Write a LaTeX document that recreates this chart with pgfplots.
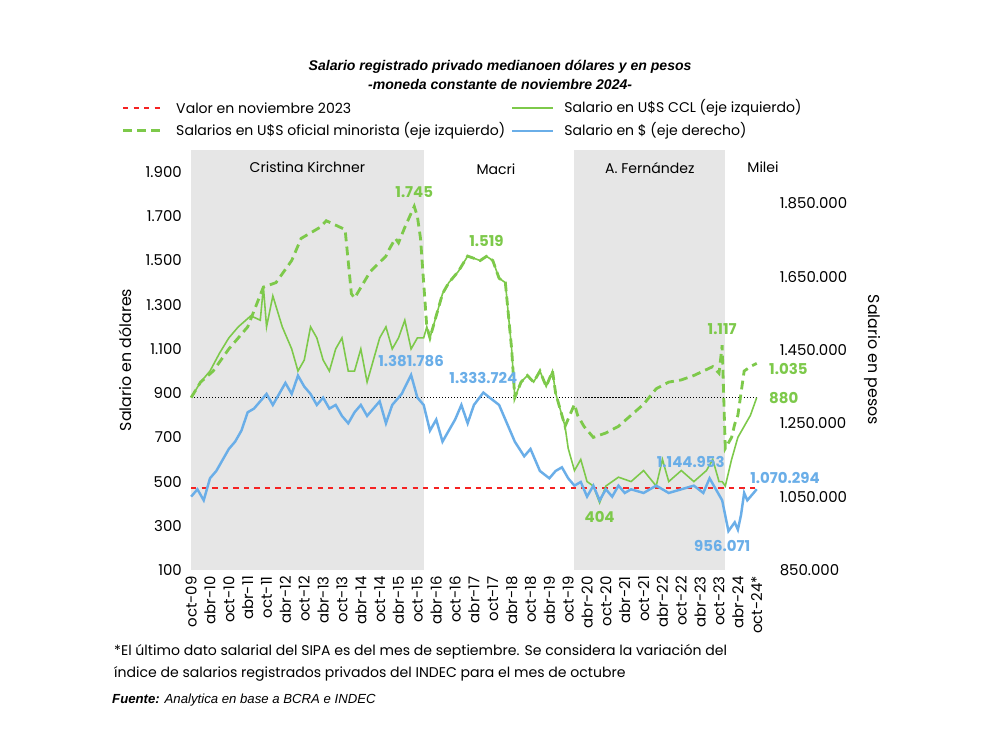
\documentclass[border=0pt]{standalone}
\usepackage{pgfplots}
\pgfplotsset{compat=1.18}
\usepackage{fontspec}
\setmainfont{Poppins}
\newfontfamily\arialf{Liberation Sans}
\definecolor{gr}{HTML}{7DC94A}
\definecolor{bl}{HTML}{6AAEE8}
\definecolor{rd}{HTML}{F52222}
\definecolor{bggray}{HTML}{E6E6E6}
\newcommand{\px}[2]{({#1*0.02},{(744-#2)*0.02})}
\tikzset{gdash/.style={dash pattern=on 5pt off 3pt}}
\begin{document}
\begin{tikzpicture}[font=\fontsize{8}{9.5}\selectfont]
\path[fill=white] (0,0) rectangle (19.84,14.88);
\begin{axis}[at={(3.76cm,3.48cm)}, anchor=south west, scale only axis,
 width=11.5cm, height=8.4cm, xmin=-1, xmax=182, ymin=100, ymax=2000,
 axis line style={draw=none}, tick style={draw=none},
 ytick={100,300,...,1900}, xtick={0,6,...,180},
 xticklabels={oct-09,abr-10,oct-10,abr-11,oct-11,abr-12,oct-12,abr-13,oct-13,abr-14,oct-14,abr-15,oct-15,abr-16,oct-16,abr-17,oct-17,abr-18,oct-18,abr-19,oct-19,abr-20,oct-20,abr-21,oct-21,abr-22,oct-22,abr-23,oct-23,abr-24,oct-24*},
 xticklabel style={rotate=90, anchor=east, font=\fontsize{8.5}{9}\selectfont},
 yticklabel style={font=\fontsize{8.5}{9}\selectfont},
 /pgf/number format/.cd, fixed, 1000 sep={.}, assume math mode=true,
 /pgfplots/.cd, clip=false]
\fill[bggray] (axis cs:0,100) rectangle (axis cs:74,2000);
\fill[bggray] (axis cs:122,100) rectangle (axis cs:170,2000);
\addplot[rd, dashed, line width=0.9pt, forget plot] coordinates {(0,470) (180,470)};
\addplot[black, densely dotted, line width=0.7pt, forget plot] coordinates {(0,880) (180,880)};
\addplot[gr, line width=0.9pt] coordinates {
(0,880)(3,950)(6,1000)(9,1080)(12,1150)(15,1200)(19,1250)(22,1230)(23,1380)(24,1200)(26,1340)(29,1200)(32,1100)(34,1000)(36,1050)(38,1200)(40,1150)(42,1050)(44,1000)(46,1100)(48,1150)(50,1000)(52,1000)(54,1100)(56,950)(57,1000)(60,1150)(62,1200)(64,1100)(66,1150)(68,1230)(70,1100)(72,1150)(74,1150)
(75,1200)(76,1150)(78,1250)(80,1350)(82,1400)(85,1450)(88,1520)(92,1500)(94,1519)(96,1500)(98,1420)(100,1400)(102,1100)(103,880)(105,950)(107,980)(109,950)(111,1000)(113,930)(115,1000)(116,900)(118,800)(119,750)
(120,650)(122,550)(124,600)(126,500)(128,480)(130,404)(132,480)(136,520)(140,500)(144,550)(148,480)(150,600)(152,500)(156,550)(160,500)(164,550)(166,600)(168,500)(169,500)(170,480)(172,600)(174,700)(176,750)(178,800)(180,880)};
\addplot[gr, gdash, line width=1.6pt] coordinates {
(0,880)(3,950)(7,1000)(12,1100)(18,1200)(23,1380)(27,1400)(32,1500)(35,1600)(41,1650)(43,1680)(49,1640)(51,1350)(52,1330)(57,1450)(62,1520)(63,1550)(65,1600)(66,1580)(68,1650)(71,1745)(72,1700)(73,1600)(75,1200)(76,1150)(78,1250)(80,1350)(82,1400)(85,1450)(88,1520)(92,1500)(94,1519)(96,1500)(98,1420)(100,1400)(102,1100)(103,880)(105,950)(107,980)(109,950)(111,1000)(113,930)(115,1000)(116,900)(118,800)(119,750)(122,850)(123,800)(125,750)(128,700)(132,720)(136,750)(140,800)(144,850)(148,920)(152,950)(156,960)(160,980)(163,1000)(166,1020)(168,990)(169,1117)(170,650)(172,700)(173,760)(174,800)(176,1000)(178,1020)(180,1035)};
\node[gr, font=\fontsize{8.5}{9}\bfseries] at (axis cs:71,1810) {1.745};
\node[gr, font=\fontsize{8.5}{9}\bfseries] at (axis cs:94,1590) {1.519};
\node[gr, font=\fontsize{8.5}{9}\bfseries] at (axis cs:169,1190) {1.117};
\node[gr, font=\fontsize{8.5}{9}\bfseries, anchor=west] at (axis cs:182,1010) {1.035};
\node[gr, font=\fontsize{8.5}{9}\bfseries, anchor=west] at (axis cs:182,880) {880};
\node[gr, font=\fontsize{8.5}{9}\bfseries] at (axis cs:130,340) {404};
\node at (axis cs:37,1920) {Cristina Kirchner};
\node at (axis cs:97,1915) {Macri};
\node at (axis cs:146,1920) {A. Fernández};
\node at (axis cs:182,1920) {Milei};
\end{axis}
\begin{axis}[at={(3.76cm,3.48cm)}, anchor=south west, scale only axis,
 width=11.5cm, height=8.4cm, xmin=-1, xmax=182, ymin=850000, ymax=1995000,
 axis line style={draw=none}, tick style={draw=none}, hide x axis,
 axis y line*=right, ytick={850000,1050000,1250000,1450000,1650000,1850000},
 yticklabel style={font=\fontsize{8.5}{9}\selectfont, xshift=6pt},
 scaled y ticks=false,
 /pgf/number format/.cd, fixed, precision=0, 1000 sep={.}, assume math mode=true,
 /pgfplots/.cd, clip=false]
\addplot[bl, line width=1.4pt] coordinates {
(0,1050000)(2,1070000)(4,1040000)(6,1100000)(8,1120000)(10,1150000)(12,1180000)(14,1200000)(16,1230000)(18,1280000)(20,1290000)(24,1330000)(26,1300000)(30,1360000)(32,1330000)(34,1380000)(36,1350000)(38,1330000)(40,1300000)(42,1320000)(44,1290000)(46,1300000)(48,1270000)(50,1250000)(52,1280000)(54,1300000)(56,1270000)(58,1290000)(60,1310000)(62,1250000)(64,1300000)(67,1330000)(70,1381786)(72,1320000)(74,1300000)(76,1230000)(78,1260000)(80,1200000)(82,1230000)(84,1260000)(86,1300000)(88,1250000)(90,1300000)(93,1333724)(95,1320000)(98,1300000)(100,1260000)(103,1200000)(106,1160000)(108,1180000)(111,1120000)(114,1100000)(116,1120000)(118,1130000)(120,1100000)(122,1080000)(124,1090000)(126,1050000)(128,1080000)(130,1040000)(132,1070000)(134,1050000)(136,1080000)(138,1060000)(140,1070000)(144,1060000)(148,1080000)(152,1060000)(156,1070000)(160,1080000)(163,1060000)(165,1100000)(167,1070000)(169,1040000)(171,956071)(173,980000)(174,960000)(175,1000000)(176,1060000)(177,1040000)(178,1050000)(179,1060000)(180,1070294)};
\node[bl, font=\fontsize{8.5}{9}\bfseries] at (axis cs:70,1420000) {1.381.786};
\node[bl, font=\fontsize{8.5}{9}\bfseries] at (axis cs:93,1373000) {1.333.724};
\node[bl, font=\fontsize{8.5}{9}\bfseries] at (axis cs:159,1145000) {1.144.953};
\node[bl, font=\fontsize{8.5}{9}\bfseries] at (axis cs:169,915000) {956.071};
\node[bl, font=\fontsize{8.5}{9}\bfseries, anchor=west] at (axis cs:176,1100000) {1.070.294};
\end{axis}
\node[rotate=90, font=\fontsize{9}{10}\selectfont] at \px{125}{360} {Salario en dólares};
\node[rotate=-90, font=\fontsize{9}{10}\selectfont] at \px{872}{360} {Salario en pesos};
\node[font=\arialf\fontsize{8}{9.5}\bfseries\itshape] at \px{500}{67} {Salario registrado privado medianoen dólares y en pesos};
\node[font=\arialf\fontsize{8}{9.5}\bfseries\itshape] at \px{500}{85} {-moneda constante de noviembre 2024-};
\draw[rd, dashed, line width=0.9pt] \px{123}{108} -- \px{165}{108};
\node[anchor=west] at \px{170}{108} {Valor en noviembre 2023};
\draw[gr, line width=0.9pt] \px{512}{108} -- \px{553}{108};
\node[anchor=west] at \px{558}{108} {Salario en U\$S CCL (eje izquierdo)};
\draw[gr, gdash, line width=1.6pt] \px{123}{131} -- \px{165}{131};
\node[anchor=west] at \px{170}{131} {Salarios en U\$S oficial minorista (eje izquierdo)};
\draw[bl, line width=1.4pt] \px{512}{131} -- \px{553}{131};
\node[anchor=west] at \px{558}{131} {Salario en \$ (eje derecho)};
\node[anchor=west] at \px{108}{652} {*El último dato salarial del SIPA es del mes de septiembre. Se considera la variación del};
\node[anchor=west] at \px{108}{674} {índice de salarios registrados privados del INDEC para el mes de octubre};
\node[anchor=west, font=\arialf\fontsize{7.5}{9}\itshape] at \px{106}{700} {\textbf{Fuente:} Analytica en base a BCRA e INDEC};
\end{tikzpicture}
\end{document}
